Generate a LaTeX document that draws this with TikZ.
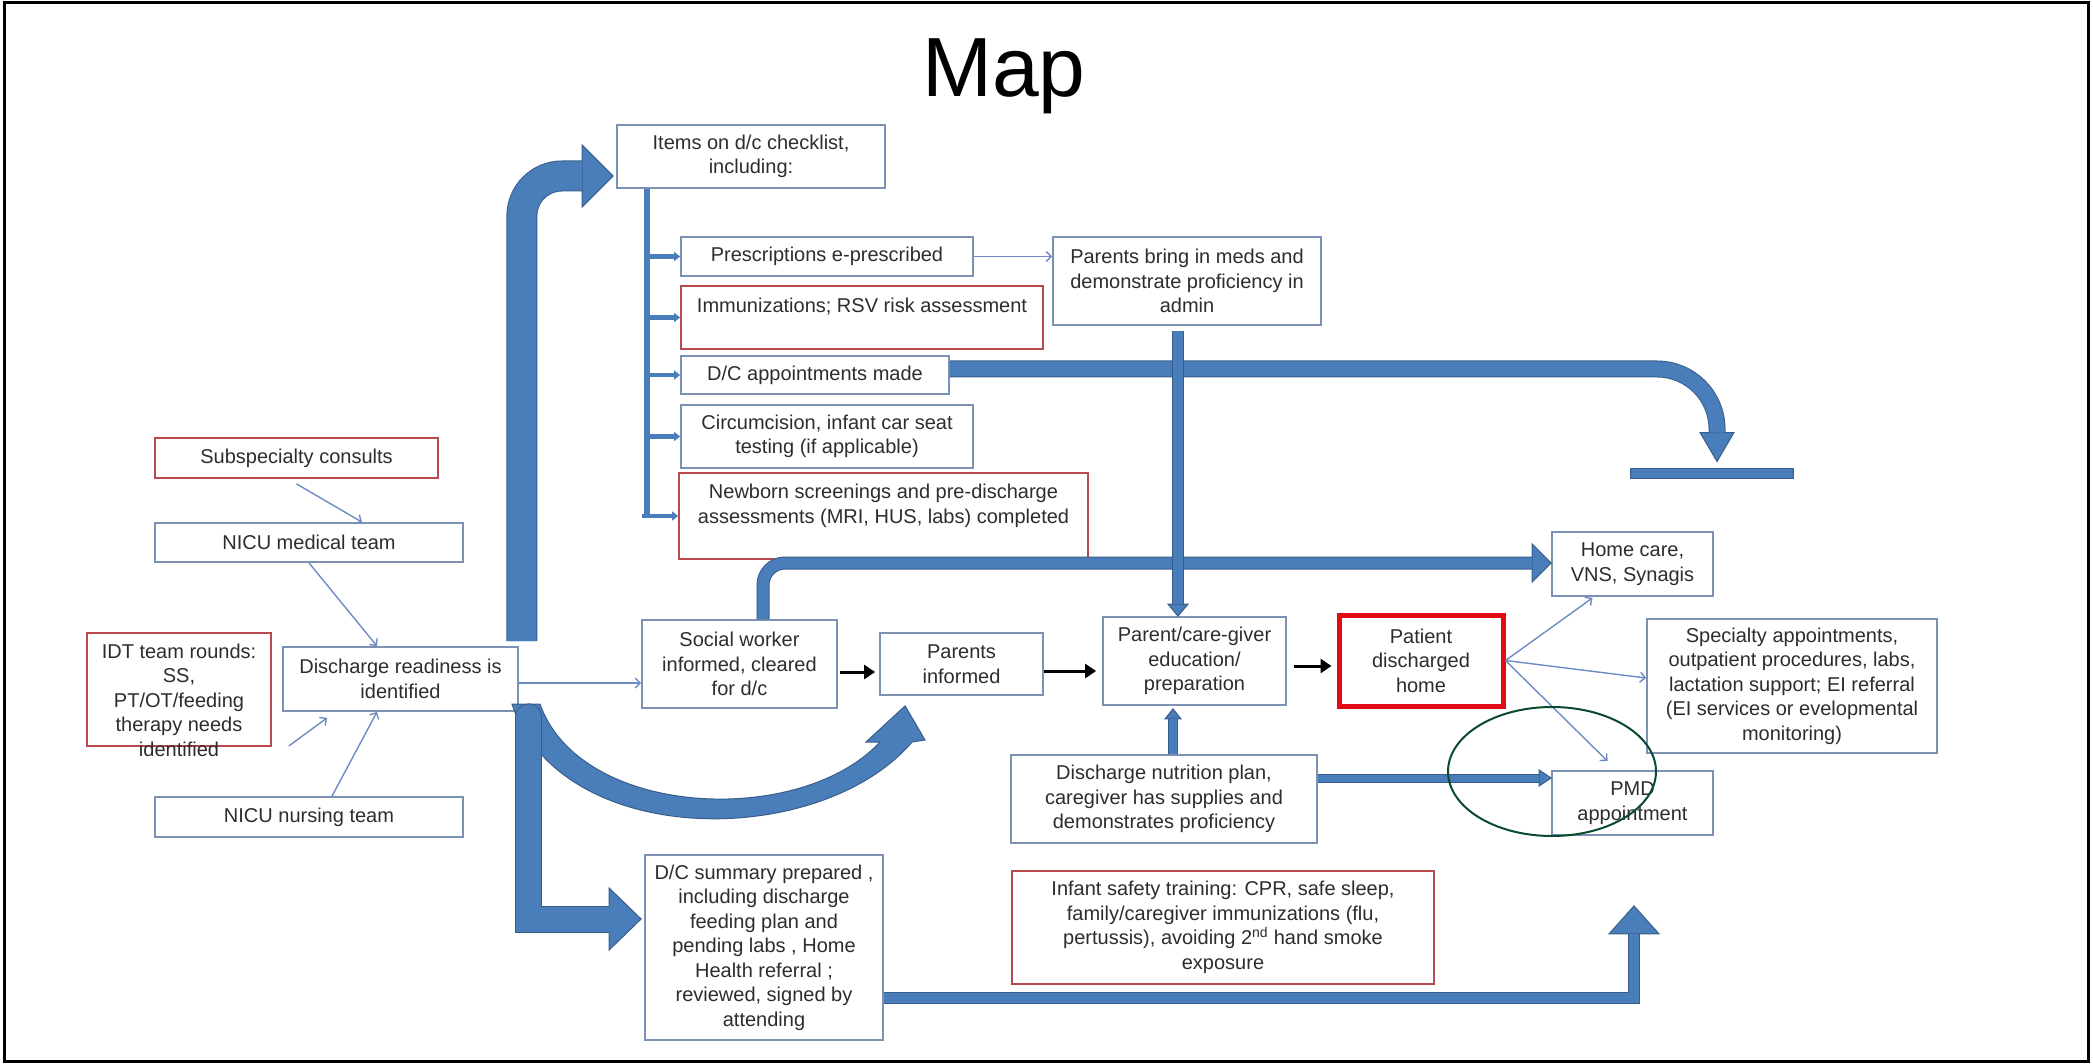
\documentclass[tikz,border=0pt]{standalone}
\usepackage{fontspec}
\setmainfont{Liberation Sans}
\usetikzlibrary{arrows.meta,calc}
\definecolor{bfill}{RGB}{74,126,187}
\definecolor{bline}{RGB}{56,93,138}
\definecolor{boxb}{RGB}{125,145,180}
\definecolor{boxr}{RGB}{185,75,80}
\definecolor{patred}{RGB}{228,10,20}
\definecolor{txt}{RGB}{45,45,45}
\definecolor{tcon}{RGB}{110,140,195}
\definecolor{egreen}{RGB}{10,75,45}
\tikzset{
  every node/.style={font=\fontsize{20}{24.5}\selectfont, text=txt},
  bbox/.style 2 args={draw=boxb, line width=1.8pt, fill=white, inner sep=0pt, align=center, minimum width=#1, minimum height=#2},
  rbox/.style 2 args={bbox={#1}{#2}, draw=boxr},
  pbox/.style 2 args={bbox={#1}{#2}, draw=patred, line width=5pt},
  conn/.style={draw=tcon, line width=1.4pt, -{Straight Barb[length=5pt,width=10pt]}},
  blk/.style={draw=black, line width=3pt, -{Triangle[length=11pt,width=14pt]}},
  brn/.style={draw=bfill, line width=4.5pt, -{Triangle[length=6pt,width=9pt]}},
}
\newcommand\fatarr[5][]{%
  \draw[bline, line width=#2pt, #1] #4;
  \filldraw[fill=bfill, draw=bline, line width=1pt, line join=miter] #5;
  \draw[bfill, line width=#3pt, #1] #4;}
\begin{document}
\begin{tikzpicture}[x=1pt,y=-1pt]
\useasboundingbox (0,0) rectangle (2093,1064);
\draw[black, line width=3pt] (4.5,3) rectangle (2088.5,1061);

\node[font=\fontsize{84}{90}\selectfont, text=black, anchor=base] (title) at (1004,97) {Map};

% ---------- boxes ----------
\node[bbox={268pt}{63pt}] (items) at (751,156.5) {Items on d/c checklist,\\including:};
\node[bbox={292pt}{39pt}] (presc) at (827,256.5) {Prescriptions e-prescribed};
\node[rbox={362pt}{63pt}] (immun) at (862,317.5) {Immunizations; RSV risk assessment\\\mbox{}};
\node[bbox={268pt}{38pt}] (dcapp) at (815,375) {D/C appointments made};
\node[bbox={292pt}{63pt}] (circ) at (827,436.5) {Circumcision, infant car seat\\testing (if applicable)};
\node[rbox={409pt}{86pt}] (newborn) at (883.5,516) {Newborn screenings and pre-discharge\\assessments (MRI, HUS, labs) completed\\\mbox{}};
\node[bbox={268pt}{88pt}] (parbring) at (1187,281) {Parents bring in meds and\\demonstrate proficiency in\\admin};
\node[rbox={283pt}{40pt}] (subsp) at (296.5,458) {Subspecialty consults};
\node[bbox={308pt}{39pt}] (nicumed) at (309,542.5) {NICU medical team};
\node[rbox={184pt}{113pt}] (idt) at (179,689.5) {};
\node[align=center, inner sep=0pt] (idttext) at (179,700) {IDT team rounds:\\SS,\\PT/OT/feeding\\therapy needs\\identified};
\node[bbox={235pt}{64pt}] (dready) at (400.5,679) {Discharge readiness is\\identified};
\node[bbox={308pt}{40pt}] (nicunurs) at (309,817) {NICU nursing team};
\node[bbox={195pt}{88pt}] (social) at (739.5,664) {Social worker\\informed, cleared\\for d/c};
\node[bbox={163pt}{62pt}] (parinf) at (961.5,664) {Parents\\informed};
\node[bbox={183pt}{88pt}] (parcare) at (1194.5,661) {Parent/care-giver\\education/\\preparation};
\node[pbox={164pt}{91pt}] (patient) at (1421,660.5) {Patient\\discharged\\home};
\node[bbox={161pt}{64pt}] (homecare) at (1632.5,564) {Home care,\\VNS, Synagis};
\node[bbox={290pt}{134pt}] (specialty) at (1792,686) {Specialty appointments,\\outpatient procedures, labs,\\lactation support; EI referral\\(EI services or evelopmental\\monitoring)};
\node[bbox={306pt}{88pt}] (nutrition) at (1164,799) {Discharge nutrition plan,\\caregiver has supplies and\\demonstrates proficiency};
\node[bbox={161pt}{64pt}] (pmd) at (1632.5,803) {PMD\\appointment};
\node[rbox={422pt}{113pt}] (infant) at (1223,927.5) {Infant safety training: CPR, safe sleep,\\family/caregiver immunizations (flu,\\pertussis), avoiding 2\textsuperscript{nd} hand smoke\\exposure};
\node[bbox={238pt}{185pt}] (dcsum) at (764,947.5) {D/C summary prepared ,\\including discharge\\feeding plan and\\pending labs , Home\\Health referral ;\\reviewed, signed by\\attending};
\node[fill=bfill, draw=bline, line width=1pt, minimum width=163pt, minimum height=10pt, inner sep=0pt] (tbar) at (1711.5,473) {};

% ---------- thick block arrows ----------
\coordinate (aS) at ($(dready.north east)+(3,-5)$);
\coordinate (aT) at ($(items.west)+(-3,19.5)$);
\fatarr[rounded corners=40pt]{31}{29}{(aS) |- ($(aT)+(-31,0)$)}{($(aT)+(-31,-31)$) -- (aT) -- ($(aT)+(-31,31)$) -- cycle}

% crescent arrow to parents informed
\coordinate (cT) at ($(parinf.south west)+(26,10)$);
\filldraw[fill=bfill, draw=bline, line width=1pt] (512,704) .. controls (560,850) and (820,850) .. (912,742) -- (925,740) -- (cT) -- (866,742) -- (880,742) .. controls (800,828) and (580,818) .. (540,704) -- cycle;

\coordinate (bS) at ($(dready.south east)+(10,5)$);
\coordinate (bT) at ($(dcsum.west)+(-3,-28.5)$);
\fatarr[line cap=round]{27}{25}{(bS) |- ($(bT)+(-32,0)$)}{($(bT)+(-32,-31)$) -- (bT) -- ($(bT)+(-32,31)$) -- cycle}

\coordinate (dS) at ($(social.north)+(23.5,0)$);
\coordinate (dT) at ($(homecare.west)+(0,-1)$);
\fatarr[rounded corners=22pt]{13}{11}{(dS) |- ($(dT)+(-19,0)$)}{($(dT)+(-19,-19)$) -- (dT) -- ($(dT)+(-19,19)$) -- cycle}

\coordinate (eS) at ($(dcapp.east)+(0,-6)$);
\coordinate (eT) at ($(tbar.north)+(5.5,-6)$);
\fatarr[rounded corners=60pt]{17}{15}{(eS) -| ($(eT)+(0,-29)$)}{($(eT)+(-17,-29)$) -- (eT) -- ($(eT)+(17,-29)$) -- cycle}

\coordinate (fS) at ($(parbring.south)+(-9,5)$);
\coordinate (fT) at ($(parcare.north)+(-16.5,0)$);
\fatarr{12}{10}{(fS) -- ($(fT)+(0,-12)$)}{($(fT)+(-10,-12)$) -- (fT) -- ($(fT)+(10,-12)$) -- cycle}

\coordinate (gS) at ($(nutrition.north)+(9,0)$);
\coordinate (gT) at ($(parcare.south)+(-21.5,3)$);
\fatarr{10}{8}{(gS) -- ($(gT)+(0,10)$)}{($(gT)+(-8,10)$) -- (gT) -- ($(gT)+(8,10)$) -- cycle}

\coordinate (hS) at ($(nutrition.east)+(0,-21)$);
\coordinate (hT) at ($(pmd.west)+(0,-25)$);
\fatarr{9}{7}{(hS) -- ($(hT)+(-12,0)$)}{($(hT)+(-12,-8)$) -- (hT) -- ($(hT)+(-12,8)$) -- cycle}

\coordinate (iS) at ($(dcsum.east)+(0,50.5)$);
\coordinate (iT) at ($(pmd.south)+(1.5,70)$);
\fatarr[line join=miter]{12}{10}{(iS) -| ($(iT)+(0,28)$)}{($(iT)+(-25,28)$) -- (iT) -- ($(iT)+(25,28)$) -- cycle}

% checklist trunk and branches
\coordinate (trT) at ($(items.south west)+(31,0)$);
\draw[bfill, line width=6pt] (trT) -- ($(trT)+(0,329)$);
\draw[brn] (presc.west -| trT) -- (presc.west);
\draw[brn] (immun.west -| trT) -- (immun.west);
\draw[brn] (dcapp.west -| trT) -- (dcapp.west);
\draw[brn] (circ.west -| trT) -- (circ.west);
\draw[brn] ($(newborn.west -| trT)+(-5,0)$) -- (newborn.west);

% ---------- thin connectors ----------
\draw[conn] ($(subsp.south)+(0,5)$) -- ($(nicumed.north)+(53,0)$);
\draw[conn] (nicumed.south) -- ($(dready.north)+(-23.5,0)$);
\draw[conn] ($(idt.south east)+(17,-1)$) -- ($(dready.south west)+(45,6)$);
\draw[conn] ($(nicunurs.north)+(23,0)$) -- ($(dready.south)+(-23.5,0)$);
\draw[conn] ($(dready.east)+(0,4)$) -- ($(social.west)+(0,19)$);
\draw[conn] (presc.east) -- (presc.east -| parbring.west);
\draw[conn] (patient.east) -- ($(homecare.south)+(-40,1)$);
\draw[conn] (patient.east) -- ($(specialty.west)+(0,-8)$);
\draw[conn] (patient.east) -- ($(pmd.north)+(-25,-9)$);

% ---------- black arrows ----------
\draw[blk] ($(social.east)+(2,8)$) -- ($(parinf.west)+(-4,8)$);
\draw[blk] ($(parinf.east)+(0,7)$) -- ($(parcare.west)+(-6,10)$);
\draw[blk] ($(parcare.east)+(7,5)$) -- ($(patient.west)+(-5,5.5)$);

% ---------- annotation ellipse ----------
\draw[egreen, line width=2pt] (1552,771.5) ellipse [x radius=104, y radius=64.5];
\end{tikzpicture}
\end{document}
